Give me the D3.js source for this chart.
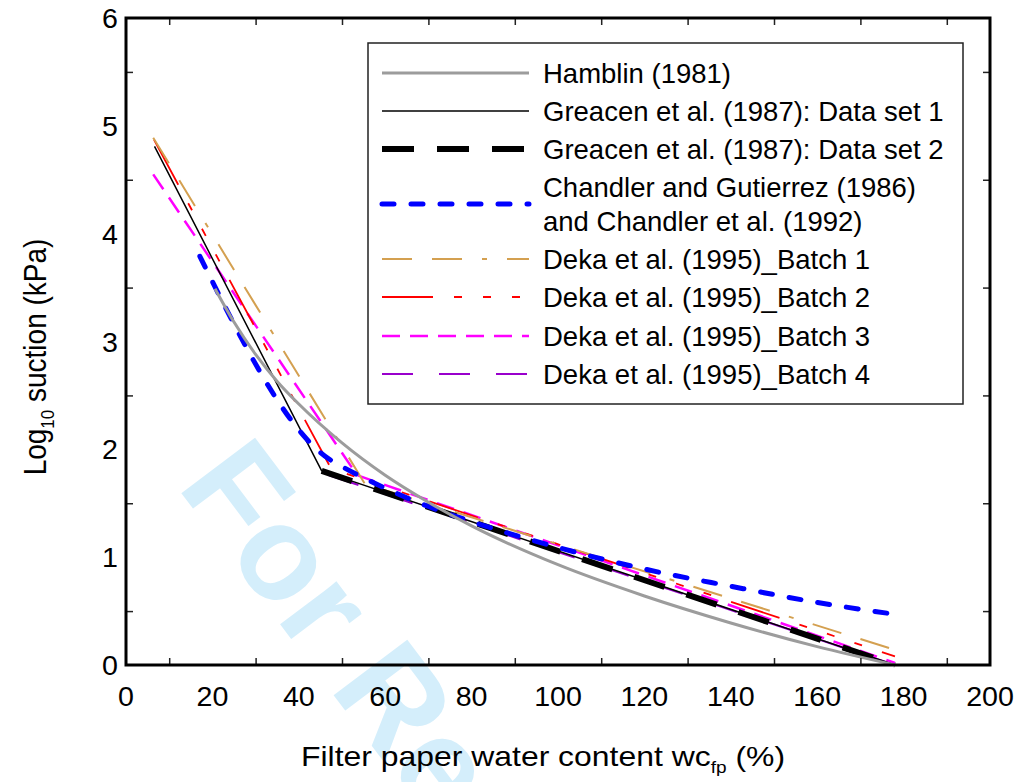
<!DOCTYPE html>
<html><head><meta charset="utf-8">
<script src="https://cdn.jsdelivr.net/npm/d3@7"></script>
<style>
body{margin:0;background:#fff}
svg{display:block}
text{font-family:"Liberation Sans",Arial,Helvetica,sans-serif;fill:#000}
</style></head>
<body><svg id="c" width="1018" height="782"></svg>
<script>
// ---------- data ----------
const xMajorTicks = [0,20,40,60,80,100,120,140,160,180,200];
const xMinorTicks = [10,30,50,70,90,110,130,150,170,190];
const yMajorTicks = [0,1,2,3,4,5,6];
const yMinorTicks = [0.5,1.5,2.5,3.5,4.5,5.5];

const hamblinW = [20.6,25,30,35,40,50,60,70,80,100,120,140,160,178];
const hamblinS = [3.49,3.18,2.88,2.63,2.42,2.06,1.76,1.51,1.29,0.93,0.64,0.39,0.17,0.0];

const greacen1W = [6.6,45.3,178];
const greacen1S = [4.81,1.80,0.0];

const greacen2W = [45.3,178];
const greacen2S = [1.80,0.0];

const chandlerW = [17.1,47,50,60,70,80,100,120,140,160,178];
const chandlerS = [3.79,1.91,1.84,1.64,1.47,1.33,1.09,0.89,0.73,0.58,0.47];

const batch1W = [6.3,55.3,178];
const batch1S = [4.89,1.68,0.14];

const batch2W = [6.5,47.5,178];
const batch2S = [4.87,1.82,0.08];

const batch3W = [6.3,53.5,178];
const batch3S = [4.55,1.76,0.02];

const batch4W = [47,178];
const batch4S = [1.76,0.0];

const legendLabels = [
  ["Hamblin (1981)"],
  ["Greacen et al. (1987): Data set 1"],
  ["Greacen et al. (1987): Data set 2"],
  ["Chandler and Gutierrez (1986)","and Chandler et al. (1992)"],
  ["Deka et al. (1995)_Batch 1"],
  ["Deka et al. (1995)_Batch 2"],
  ["Deka et al. (1995)_Batch 3"],
  ["Deka et al. (1995)_Batch 4"]
];

// ---------- drawing ----------
const svg = d3.select("#c");
const x = d3.scaleLinear().domain([0,200]).range([126,990]);
const y = d3.scaleLinear().domain([0,6]).range([665,18]);
const zip = (a,b)=>a.map((v,i)=>[v,b[i]]);

// watermark
svg.append("text")
  .attr("transform","translate(176,486) rotate(53)")
  .style("font-size","134px").style("font-weight","bold")
  .style("fill","#d4eefb")
  .text("For Review");

const series = [
  {w:batch4W,s:batch4S,color:"#9900cc",width:2,dash:"31,26",cap:"butt"},
  {w:batch3W,s:batch3S,color:"#ff00ff",width:2.5,dash:"18,10",cap:"butt"},
  {w:batch2W,s:batch2S,color:"#ff0000",width:1.8,dash:"51,21,8,21,8,21,8,21",cap:"butt"},
  {w:batch1W,s:batch1S,color:"#d4a050",width:2,dash:"30,20,30,20,5,20",cap:"butt"},
  {w:greacen1W,s:greacen1S,color:"#000",width:1.5,dash:null,cap:"butt"},
  {w:greacen2W,s:greacen2S,color:"#000",width:6,dash:"32,23",cap:"butt"},
  {w:chandlerW,s:chandlerS,color:"#0000ff",width:5,dash:"12,17",cap:"round"},
  {w:hamblinW,s:hamblinS,color:"#9c9c9c",width:3,dash:null,cap:"butt"}
];
const line = d3.line().x(d=>x(d[0])).y(d=>y(d[1]));
const lineCurve = d3.line().x(d=>x(d[0])).y(d=>y(d[1])).curve(d3.curveMonotoneX);

series.forEach(sr=>{
  const p = svg.append("path")
    .attr("d",(sr.w.length>3?lineCurve:line)(zip(sr.w,sr.s)))
    .attr("fill","none").attr("stroke",sr.color)
    .attr("stroke-width",sr.width).attr("stroke-linecap",sr.cap)
    .attr("stroke-linejoin","round");
  if(sr.dash) p.attr("stroke-dasharray",sr.dash);
});

// axes with inward ticks on all sides
function axisPair(gen, scale, majors, minors, tr){
  const g = svg.append("g").attr("transform",tr);
  g.call(gen(scale).tickValues(majors).tickSize(-14).tickFormat(""));
  g.call(gen(scale).tickValues(minors).tickSize(-7).tickFormat(""));
  g.selectAll(".domain").remove();
  g.selectAll(".tick line").attr("stroke","#222").attr("stroke-width",1.5);
  return g;
}
axisPair(d3.axisBottom,x,xMajorTicks,xMinorTicks,"translate(0,665)");
axisPair(d3.axisTop,x,xMajorTicks,xMinorTicks,"translate(0,18)");
axisPair(d3.axisLeft,y,yMajorTicks,yMinorTicks,"translate(126,0)");
axisPair(d3.axisRight,y,yMajorTicks,yMinorTicks,"translate(990,0)");

// frame
svg.append("rect").attr("x",126).attr("y",18).attr("width",864).attr("height",647)
  .attr("fill","none").attr("stroke","#000").attr("stroke-width",3);

// tick labels
xMajorTicks.forEach(v=>{
  svg.append("text").attr("transform",`translate(${x(v)},706) scale(1.06,1)`)
    .attr("text-anchor","middle").style("font-size","27px").text(v);
});
yMajorTicks.forEach(v=>{
  svg.append("text").attr("transform",`translate(118,${y(v)+10}) scale(1.06,1)`)
    .attr("text-anchor","end").style("font-size","27px").text(v);
});

// axis titles
const xt = svg.append("text").attr("transform",`translate(543,766) scale(1.12,1)`)
  .attr("text-anchor","middle").style("font-size","28.5px");
xt.append("tspan").text("Filter paper water content wc");
xt.append("tspan").attr("dy",7).style("font-size","17px").text("fp");
xt.append("tspan").attr("dy",-7).text(" (%)");

const yt = svg.append("text").attr("transform",`translate(46,357) scale(1.1,1) rotate(-90)`)
  .attr("text-anchor","middle").style("font-size","28px");
yt.append("tspan").text("Log");
yt.append("tspan").attr("dy",7).style("font-size","17px").text("10");
yt.append("tspan").attr("dy",-7).text(" suction (kPa)");

// legend
svg.append("rect").attr("x",368).attr("y",43).attr("width",595).attr("height",361)
  .attr("fill","#fff").attr("stroke","#222").attr("stroke-width",1.5);
const rowY = [73,111,149,204,259,297,336,374];
const legOrder = [7,4,5,6,3,2,1,0]; // index into series
legendLabels.forEach((lab,i)=>{
  const sr = series[legOrder[i]];
  const l = svg.append("line").attr("x1",382).attr("x2",529)
    .attr("y1",rowY[i]).attr("y2",rowY[i])
    .attr("stroke",sr.color).attr("stroke-width",sr.width).attr("stroke-linecap",sr.cap);
  if(sr.dash) l.attr("stroke-dasharray",sr.dash);
  if(lab.length===1){
    svg.append("text").attr("transform",`translate(543,${rowY[i]+10})`)
      .style("font-size","27.5px").text(lab[0]);
  } else {
    lab.forEach((t,k)=>{
      svg.append("text").attr("transform",`translate(543,${rowY[i]-17+k*34+10})`)
        .style("font-size","27.5px").text(t);
    });
  }
});
</script></body></html>
